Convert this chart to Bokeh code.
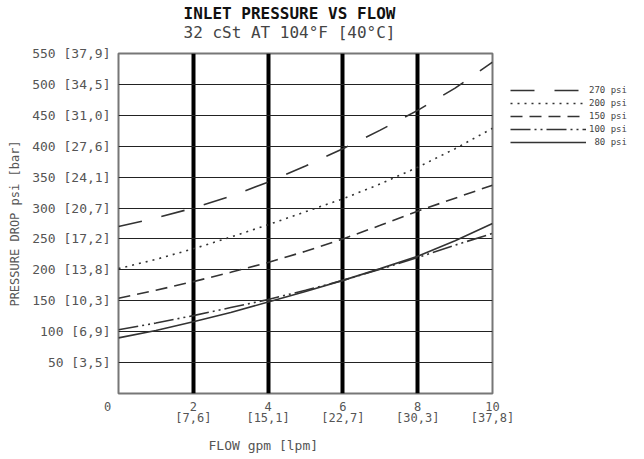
from bokeh.plotting import figure
from bokeh.models import (Range1d, FixedTicker, Title, Legend, LegendItem)
from bokeh.embed import file_html
from bokeh.resources import INLINE

FONT = "DejaVu Sans Mono"
NB = "\u00a0"

flow_gpm = [0, 1, 2, 3, 4, 5, 6, 7, 8, 9, 10]
p270 = [270, 284, 300, 319, 342, 368, 396, 426, 458, 494, 536]
p200 = [202, 217, 234, 253, 273, 294, 315, 339, 366, 396, 429]
p150 = [154, 167, 181, 196, 212, 230, 250, 272, 295, 316, 337]
p100 = [103, 114, 126, 139, 152, 167, 183, 201, 220, 240, 259]
p80 = [90, 102, 116, 131, 148, 165, 183, 202, 222, 247, 275]

series_names = ["270 psi", "200 psi", "150 psi", "100 psi", NB + "80 psi"]
series_vals = [p270, p200, p150, p100, p80]
series_dash = ["24 20", "2 5", "12 7", "20 4 2 4 2 4", "solid"]

y_ticks = [50, 100, 150, 200, 250, 300, 350, 400, 450, 500, 550]
y_labels = ["50 [3,5]", "100 [6,9]", "150 [10,3]", "200 [13,8]", "250 [17,2]",
            "300 [20,7]", "350 [24,1]", "400 [27,6]", "450 [31,0]", "500 [34,5]",
            "550 [37,9]"]
x_ticks = [0, 2, 4, 6, 8, 10]
x_labels = ["0" + NB * 3, "2\n[7,6]", "4\n[15,1]", "6\n[22,7]", "8\n[30,3]", "10\n[37,8]"]
grid_x = [2, 4, 6, 8]

p = figure(frame_width=374, frame_height=340, output_backend="svg", toolbar_location=None,
           x_range=Range1d(0, 10), y_range=Range1d(0, 550),
           min_border_left=118, min_border_right=152, min_border_top=53,
           min_border_bottom=66)

p.add_layout(Title(text="32 cSt AT 104°F [40°C]", align="left", offset=65, standoff=24,
                   text_font=FONT, text_font_size="16px", text_font_style="normal",
                   text_color="#444444"), "above")
p.add_layout(Title(text="INLET PRESSURE VS FLOW", align="left", offset=65, standoff=-28,
                   text_font=FONT, text_font_size="16px", text_font_style="bold",
                   text_color="#111111"), "above")

p.outline_line_color = "#777777"
p.outline_line_width = 2

for ax in (p.xaxis, p.yaxis):
    ax.axis_line_color = None
    ax.major_tick_line_color = None
    ax.minor_tick_line_color = None
    ax.major_label_text_font = FONT
    ax.major_label_text_color = "#555555"
    ax.axis_label_text_font = FONT
    ax.axis_label_text_font_style = "normal"
    ax.axis_label_text_color = "#555555"
    ax.axis_label_text_font_size = "12px"

p.yaxis.ticker = FixedTicker(ticks=y_ticks)
p.yaxis.major_label_overrides = dict(zip(y_ticks, y_labels))
p.yaxis.major_label_standoff = 2
p.yaxis.major_label_text_font_size = "13px"
p.yaxis.axis_label = "PRESSURE DROP psi [bar]"
p.yaxis.axis_label_standoff = 7

p.xaxis.ticker = FixedTicker(ticks=x_ticks)
p.xaxis.major_label_overrides = dict(zip(x_ticks, x_labels))
p.xaxis.major_label_standoff = 0
p.xaxis.major_label_text_font_size = "12px"
p.xaxis.major_label_text_line_height = 0.85

p.add_layout(Title(text="FLOW gpm [lpm]", align="left", offset=90, standoff=14,
                   text_font=FONT, text_font_size="13px", text_font_style="normal",
                   text_color="#555555"), "below")

p.ygrid.ticker = FixedTicker(ticks=y_ticks[:-1])
p.ygrid.grid_line_color = "#222222"
p.ygrid.grid_line_width = 1.2
p.xgrid.ticker = FixedTicker(ticks=grid_x)
p.xgrid.grid_line_color = "black"
p.xgrid.grid_line_width = 4

items = []
for name, vals, dash in zip(series_names, series_vals, series_dash):
    r = p.line(flow_gpm, vals, line_color="#333333", line_width=1.6, line_dash=dash)
    items.append(LegendItem(label=name, renderers=[r]))

legend = Legend(items=items, location="top_left", orientation="vertical",
                glyph_width=76, glyph_height=12, label_height=12, spacing=1,
                padding=0, margin=18, label_standoff=3,
                title=NB, title_text_font_size="9px", title_standoff=3,
                label_text_font=FONT, label_text_font_size="9px",
                label_text_color="#444444", border_line_color=None,
                background_fill_alpha=0)
p.add_layout(legend, "right")

open("out.html", "w").write(file_html(p, INLINE))
